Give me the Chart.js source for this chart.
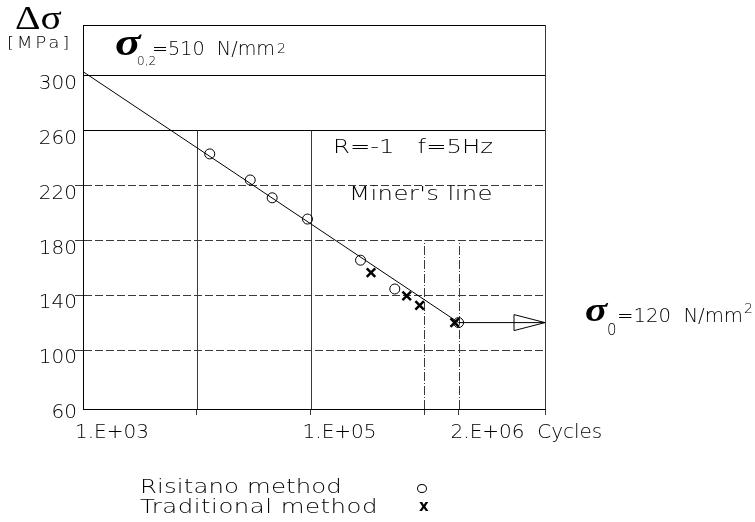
<!DOCTYPE html>
<html><head><meta charset="utf-8">
<script src="https://cdn.jsdelivr.net/npm/chart.js@4.4.1/dist/chart.umd.min.js"></script>
<style>
body{margin:0;background:#fff;}
#wrap{position:relative;width:755px;height:522px;overflow:hidden;background:#fff;}
#c{position:absolute;left:0;top:0;}
.t{position:absolute;font-family:'DejaVu Sans';font-weight:200;color:#000;white-space:pre;line-height:1;transform-origin:0 0;}
.s{position:absolute;font-family:'Liberation Serif';font-weight:bold;font-style:italic;color:#000;line-height:1;transform-origin:0 0;}
</style></head><body>
<div id="wrap">
<canvas id="c" width="755" height="522"></canvas>
<div class="s" style="font-style:normal;font-weight:normal;font-size:33px;left:15px;top:2px;transform:scaleX(1.2)">Δσ</div>
<div class="t" data-w="65" style="font-size:15px;left:7px;top:36px">[MPa]</div>
<div class="s" style="font-size:38px;left:115px;top:23px;transform:scaleX(1.25)">σ</div>
<div class="t" style="font-size:12px;left:137px;top:55px">0,2</div>
<div class="t" data-w="123" style="font-size:20px;left:152px;top:38px">=510  N/mm</div>
<div class="t" style="font-size:14px;left:277px;top:41px">2</div>
<div class="t" data-w="160" style="font-size:20px;left:333px;top:136px">R=-1   f=5Hz</div>
<div class="t" data-w="144" style="font-size:20px;left:349px;top:183px">Miner's line</div>
<div class="s" style="font-size:33px;left:585px;top:294px;transform:scaleX(1.25)">σ</div>
<div class="t" style="font-size:15px;left:607px;top:323px">0</div>
<div class="t" data-w="126" style="font-size:20px;left:617px;top:305px">=120  N/mm</div>
<div class="t" style="font-size:14px;left:744px;top:301px">2</div>
<div class="t" data-w="202" style="font-size:20px;left:140px;top:476px">Risitano method</div>
<div class="t" data-w="238" style="font-size:20px;left:140px;top:496px">Traditional method</div>
<div style="position:absolute;left:417px;top:484px;width:8px;height:7px;border:1px solid #000;border-radius:50%"></div>
<div class="t" style="font-family:'DejaVu Sans';font-weight:bold;font-size:15px;left:419px;top:499px">x</div>
</div>
<script>
// ---- data ----
const risitanoCycles = [1.3e4, 2.95e4, 4.6e4, 9.4e4, 2.75e5, 5.5e5, 2.0e6];
const risitanoStress = [243, 224, 211, 195.5, 165.5, 144.5, 120];
const traditionalCycles = [3.4e5, 7.0e5, 9.1e5, 1.85e6];
const traditionalStress = [156.5, 139.5, 132.5, 120];
const minerCycles = [1e3, 2e6];
const minerStress = [303, 120];
const limitCycles = [2e6, 1.15e7];
const limitStress = [120, 120];
const xTickValues = [1e3, 1e4, 1e5, 1e6, 2e6];
const xTickLabels = ['1.E+03', '', '1.E+05', '', '2.E+06  Cycles'];
const yTickValues = [60, 100, 140, 180, 220, 260, 300];
const xMin = 1e3, xMax = 1.15e7, yMin = 57, yMax = 337;

const FONT = {family: "'DejaVu Sans'", size: 20, weight: '200'};
const solidY = [260, 300, yMax];
const GRID = '#3a3a3a';

const pts = (xs, ys) => xs.map((v, i) => ({x: v, y: ys[i]}));

const partialGrid = {
  id: 'partialGrid',
  beforeDatasetsDraw(chart, args, opts) {
    const {ctx, scales: {x, y}} = chart;
    ctx.save();
    opts.lines.forEach(l => {
      const px = Math.round(x.getPixelForValue(l.value)) + 0.5;
      ctx.beginPath();
      ctx.setLineDash(l.dash);
      ctx.strokeStyle = GRID;
      ctx.lineWidth = 1;
      ctx.moveTo(px, y.getPixelForValue(l.from));
      ctx.lineTo(px, y.getPixelForValue(l.to));
      ctx.stroke();
    });
    ctx.restore();
  }
};

const arrowHead = {
  id: 'arrowHead',
  afterDatasetsDraw(chart, args, opts) {
    const meta = chart.getDatasetMeta(opts.datasetIndex);
    const el = meta.data[meta.data.length - 1];
    if (!el) return;
    const {ctx} = chart;
    ctx.save();
    ctx.strokeStyle = '#000';
    ctx.lineWidth = 1;
    ctx.beginPath();
    ctx.moveTo(el.x, el.y);
    ctx.lineTo(el.x - opts.length, el.y - opts.half);
    ctx.lineTo(el.x - opts.length, el.y + opts.half);
    ctx.closePath();
    ctx.stroke();
    ctx.restore();
  }
};

new Chart(document.getElementById('c'), {
  type: 'scatter',
  data: {
    datasets: [
      {label: "Miner's line", data: pts(minerCycles, minerStress), showLine: true,
       borderColor: '#000', borderWidth: 1, pointRadius: 0},
      {label: 'Fatigue limit', data: pts(limitCycles, limitStress), showLine: true,
       borderColor: '#000', borderWidth: 1, pointRadius: 0},
      {label: 'Risitano method', data: pts(risitanoCycles, risitanoStress), showLine: false,
       pointStyle: 'circle', pointRadius: 5, borderColor: '#000', borderWidth: 1,
       backgroundColor: 'rgba(0,0,0,0)'},
      {label: 'Traditional method', data: pts(traditionalCycles, traditionalStress), showLine: false,
       pointStyle: 'crossRot', pointRadius: 6, borderColor: '#000', borderWidth: 2.5}
    ]
  },
  options: {
    responsive: false,
    animation: false,
    layout: {padding: {left: 0, right: 210, top: 25, bottom: 0}},
    plugins: {
      legend: {display: false},
      tooltip: {enabled: false},
      partialGrid: {lines: [
        {value: 1e4, from: yMin, to: 260, dash: []},
        {value: 1e5, from: yMin, to: 260, dash: []},
        {value: 1e6, from: yMin, to: 180, dash: [9, 2, 1, 2]},
        {value: 2e6, from: yMin, to: 180, dash: [9, 2, 1, 2]},
        {value: xMax, from: yMin, to: yMax, dash: []}
      ]},
      arrowHead: {datasetIndex: 1, length: 31, half: 8}
    },
    scales: {
      x: {
        type: 'logarithmic', min: xMin, max: xMax,
        afterBuildTicks: s => { s.ticks = [...xTickValues, xMax].map(v => ({value: v})); },
        afterFit: s => { s.height = 113; },
        ticks: {autoSkip: false, maxRotation: 0, minRotation: 0, align: 'start', labelOffset: -8,
                padding: 6, color: '#000', font: FONT,
                callback: (v, i) => xTickLabels[i] !== undefined ? xTickLabels[i] : ''},
        grid: {drawOnChartArea: false, drawTicks: true, tickLength: 6,
               tickColor: c => (c.tick && c.tick.value === xMin) ? 'rgba(0,0,0,0)' : GRID},
        border: {display: true, color: '#000', width: 1}
      },
      y: {
        type: 'linear', min: yMin, max: yMax,
        afterBuildTicks: s => { s.ticks = [...yTickValues, yMax].map(v => ({value: v})); },
        afterFit: s => { s.width = 83; },
        ticks: {labelOffset: 8, padding: -2, color: '#000', font: FONT,
                callback: v => yTickValues.includes(v) ? String(v) : ''},
        grid: {drawTicks: true, tickLength: 8, lineWidth: 1,
               color: c => (c.tick && c.tick.value === 60) ? 'rgba(0,0,0,0)' : (c.tick && solidY.includes(c.tick.value) ? '#000' : GRID),
               tickColor: c => (c.tick && (c.tick.value === 60 || solidY.includes(c.tick.value))) ? 'rgba(0,0,0,0)' : GRID},
        border: {display: true, color: '#000', width: 1,
                 dash: c => (c.tick && !solidY.includes(c.tick.value)) ? [8, 3] : []}
      }
    }
  },
  plugins: [partialGrid, arrowHead]
});

// fit the wide CAD-style lettering to the widths seen in the reference:
// widen glyphs first, then make up the rest with letter spacing
document.querySelectorAll('[data-w]').forEach(el => {
  const target = +el.dataset.w;
  const n = el.textContent.length;
  const w = el.getBoundingClientRect().width;
  const s = Math.min(1.22, target / w);
  el.style.transform = 'scaleX(' + s + ')';
  el.style.letterSpacing = ((target / s - w) / n) + 'px';
});
</script>
</body></html>
